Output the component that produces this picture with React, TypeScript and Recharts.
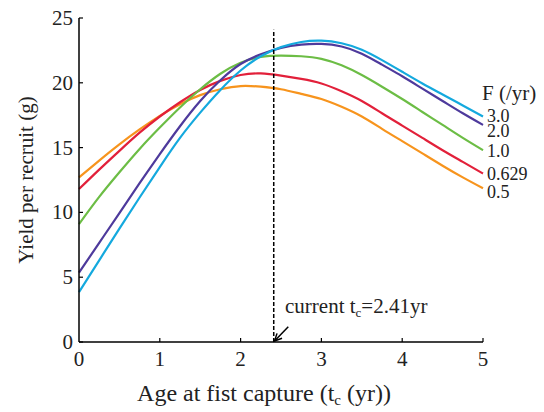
import { LineChart, Line, XAxis, YAxis, ReferenceLine } from "recharts";

// age at first capture (yr)
const AGE = [0, 0.25, 0.5, 0.75, 1, 1.25, 1.5, 1.75, 2, 2.25, 2.5, 2.75, 3, 3.25, 3.5, 3.75, 4, 4.25, 4.5, 4.75, 5];

// yield per recruit (g) for each fishing mortality F (/yr)
const YPR_F05 = [12.7, 14.0, 15.25, 16.4, 17.45, 18.35, 19.05, 19.5, 19.75, 19.7, 19.5, 19.15, 18.75, 18.15, 17.4, 16.45, 15.5, 14.55, 13.6, 12.7, 11.86];
const YPR_F0629 = [11.8, 13.3, 14.75, 16.15, 17.4, 18.5, 19.45, 20.15, 20.6, 20.72, 20.55, 20.3, 19.95, 19.35, 18.6, 17.65, 16.7, 15.75, 14.8, 13.9, 13.0];
const YPR_F1 = [9.1, 11.2, 13.1, 14.9, 16.55, 18.1, 19.5, 20.7, 21.55, 22.0, 22.1, 22.05, 21.85, 21.35, 20.6, 19.7, 18.75, 17.75, 16.75, 15.75, 14.8];
const YPR_F2 = [5.35, 7.65, 9.95, 12.25, 14.5, 16.65, 18.6, 20.2, 21.45, 22.2, 22.7, 22.95, 23.0, 22.8, 22.25, 21.4, 20.5, 19.55, 18.6, 17.65, 16.75];
const YPR_F3 = [3.85, 6.3, 8.75, 11.15, 13.5, 15.75, 17.7, 19.45, 20.95, 22.05, 22.75, 23.15, 23.25, 23.05, 22.55, 21.75, 20.85, 19.95, 19.1, 18.25, 17.4];

const X_TICKS = [0, 1, 2, 3, 4, 5];
const Y_TICKS = [0, 5, 10, 15, 20, 25];

const CURRENT_TC = 2.41;

const SERIES = [
  { key: "f05", label: "0.5", color: "#F7941D", values: YPR_F05 },
  { key: "f0629", label: "0.629", color: "#E2203A", values: YPR_F0629 },
  { key: "f1", label: "1.0", color: "#6CBD45", values: YPR_F1 },
  { key: "f2", label: "2.0", color: "#4E3A9C", values: YPR_F2 },
  { key: "f3", label: "3.0", color: "#14A9DE", values: YPR_F3 },
];

const rows = AGE.map((age, i) => {
  const row: Record<string, number> = { age };
  SERIES.forEach((s) => (row[s.key] = s.values[i]));
  return row;
});

const FONT = "'Liberation Serif', 'Times New Roman', serif";

const XTick = ({ x, y, payload }: any) => (
  <g>
    {payload.value !== 0 && <line x1={x} y1={y} x2={x} y2={y - 4} stroke="#000" strokeWidth={1.2} />}
    <text x={x} y={y + 24} textAnchor="middle" fontFamily={FONT} fontSize={21} fill="#222">
      {payload.value}
    </text>
  </g>
);

const YTick = ({ x, y, payload }: any) => (
  <g>
    <line x1={x} y1={y} x2={x + 4} y2={y} stroke="#000" strokeWidth={1.2} />
    <text x={x - 6} y={y + 7} textAnchor="end" fontFamily={FONT} fontSize={21} fill="#222">
      {payload.value}
    </text>
  </g>
);

// small arrow pointing at the current age at capture
const Arrow = ({ x1, y1, x2, y2 }: any) => {
  const a = Math.atan2(y2 - y1, x2 - x1);
  const h = 8;
  const w = 0.45;
  const p1 = `${x2 - h * Math.cos(a - w)},${y2 - h * Math.sin(a - w)}`;
  const p2 = `${x2 - h * Math.cos(a + w)},${y2 - h * Math.sin(a + w)}`;
  return (
    <g>
      <line x1={x1} y1={y1} x2={x2} y2={y2} stroke="#000" strokeWidth={1.5} />
      <polyline points={`${p1} ${x2},${y2} ${p2}`} fill="none" stroke="#000" strokeWidth={1.5} />
    </g>
  );
};

export default function App() {
  return (
    <div style={{ position: "absolute", left: 0, top: 0, width: 544, height: 412, background: "#fff" }}>
      <LineChart width={544} height={412} data={rows} margin={{ top: 18, right: 61, bottom: 40, left: 0 }}>
        <XAxis
          dataKey="age"
          type="number"
          domain={[0, 5]}
          ticks={X_TICKS}
          tickSize={0}
          tickMargin={0}
          tick={<XTick />}
          axisLine={{ stroke: "#000", strokeWidth: 1.5 }}
          height={30}
        />
        <YAxis
          type="number"
          domain={[0, 25]}
          ticks={Y_TICKS}
          width={79}
          tickSize={0}
          tickMargin={0}
          tick={<YTick />}
          axisLine={{ stroke: "#000", strokeWidth: 1.5 }}
        />
        {SERIES.map((s) => (
          <Line
            key={s.key}
            dataKey={s.key}
            type="natural"
            stroke={s.color}
            strokeWidth={2.2}
            dot={false}
            isAnimationActive={false}
          />
        ))}
        <ReferenceLine
          segment={[{ x: CURRENT_TC, y: 0 }, { x: CURRENT_TC, y: 24.1 }]}
          stroke="#000"
          strokeWidth={1.5}
          strokeDasharray="4 2"
        />
        <ReferenceLine
          segment={[{ x: 2.59, y: 1.18 }, { x: 2.42, y: 0.08 }]}
          shape={<Arrow />}
        />
      </LineChart>
      <svg width={544} height={412} style={{ position: "absolute", left: 0, top: 0, pointerEvents: "none" }}>
        <g fontFamily={FONT} fill="#222">
          <text x={482} y={100} fontSize={21}>F (/yr)</text>
          <text x={487} y={122} fontSize={18}>3.0</text>
          <text x={487} y={137} fontSize={18}>2.0</text>
          <text x={487} y={157} fontSize={18}>1.0</text>
          <text x={487} y={180} fontSize={18}>0.629</text>
          <text x={487} y={198} fontSize={18}>0.5</text>
          <text x={285} y={313} fontSize={21}>
            current t<tspan fontSize={13} dy={4}>c</tspan>
            <tspan dy={-4}>={CURRENT_TC}yr</tspan>
          </text>
          <text x={264} y={401} fontSize={24} textAnchor="middle">
            Age at fist capture (t<tspan fontSize={15} dy={4}>c</tspan>
            <tspan dy={-4}> (yr))</tspan>
          </text>
          <text x={33} y={180} fontSize={21} textAnchor="middle" transform="rotate(-90 33 180)">
            Yield per recruit (g)
          </text>
        </g>
      </svg>
    </div>
  );
}
